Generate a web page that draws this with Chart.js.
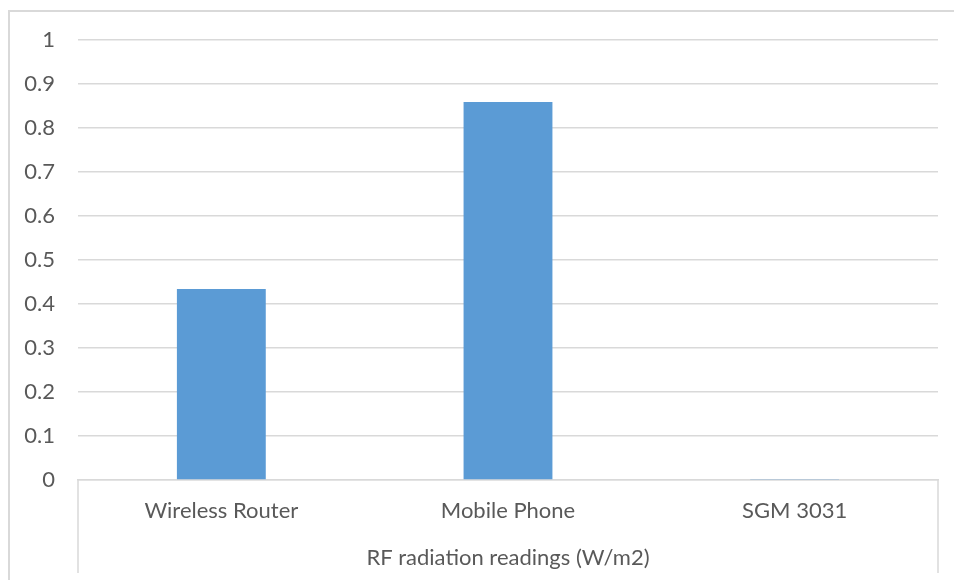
<!DOCTYPE html>
<html>
<head>
<meta charset="utf-8">
<script src="https://cdn.jsdelivr.net/npm/chart.js@4.4.1/dist/chart.umd.min.js"></script>
<style>
  html, body { margin: 0; padding: 0; background: #ffffff; }
  #wrap { width: 954px; height: 580px; position: relative; }
</style>
</head>
<body>
<div id="wrap"><canvas id="chart" width="954" height="580"></canvas></div>
<script>
// RF readings per source
const categories = ['Wireless Router', 'Mobile Phone', 'SGM 3031'];
const readings = [0.434, 0.859, 0.002];
const groupLabel = 'RF radiation readings (W/m2)';

const TEXT = '#595959';
const LINE = '#d9d9d9';
const BAR = '#5b9bd5';
const FONT = 'Lato, "Open Sans", sans-serif';
const SIZE = 22;

// Frame around the whole chart plus the box lines of the grouped category axis
const framePlugin = {
  id: 'frame',
  beforeDraw(chart) {
    const ctx = chart.ctx;
    ctx.save();
    ctx.fillStyle = '#ffffff';
    ctx.fillRect(0, 0, chart.width, chart.height);
    ctx.strokeStyle = LINE;
    ctx.lineWidth = 2;
    ctx.strokeRect(9, 11, chart.width + 20, chart.height + 20);
    ctx.restore();
  },
  afterDraw(chart) {
    const x = chart.scales.x;
    const ctx = chart.ctx;
    ctx.save();
    ctx.strokeStyle = LINE;
    ctx.lineWidth = 1.5;
    ctx.beginPath();
    ctx.moveTo(x.left, x.top);
    ctx.lineTo(x.left, x.top + 93);
    ctx.moveTo(x.right, x.top);
    ctx.lineTo(x.right, x.top + 93);
    ctx.stroke();
    ctx.restore();
  }
};

new Chart(document.getElementById('chart'), {
  type: 'bar',
  data: {
    labels: categories,
    datasets: [{
      data: readings,
      backgroundColor: BAR,
      borderWidth: 0,
      categoryPercentage: 1,
      barPercentage: 0.31
    }]
  },
  options: {
    responsive: false,
    animation: false,
    layout: { padding: { top: 40, right: 16, bottom: 0, left: 8 } },
    plugins: { legend: { display: false }, tooltip: { enabled: false } },
    scales: {
      x: {
        grid: { display: false, drawTicks: false },
        border: { display: true, color: LINE, width: 1.5 },
        ticks: { color: TEXT, font: { family: FONT, size: SIZE }, padding: 18 },
        title: {
          display: true,
          text: groupLabel,
          color: TEXT,
          font: { family: FONT, size: SIZE },
          padding: { top: 0, bottom: 9 }
        },
        afterFit(scale) { scale.height = 100; }
      },
      y: {
        min: 0,
        max: 1,
        ticks: {
          stepSize: 0.1,
          color: TEXT,
          font: { family: FONT, size: SIZE },
          padding: 23,
          callback: (v) => String(Math.round(v * 10) / 10)
        },
        grid: { color: LINE, lineWidth: 1.5, drawTicks: false },
        border: { display: false },
        afterFit(scale) { scale.width = 70; }
      }
    }
  },
  plugins: [framePlugin]
});
</script>
</body>
</html>
